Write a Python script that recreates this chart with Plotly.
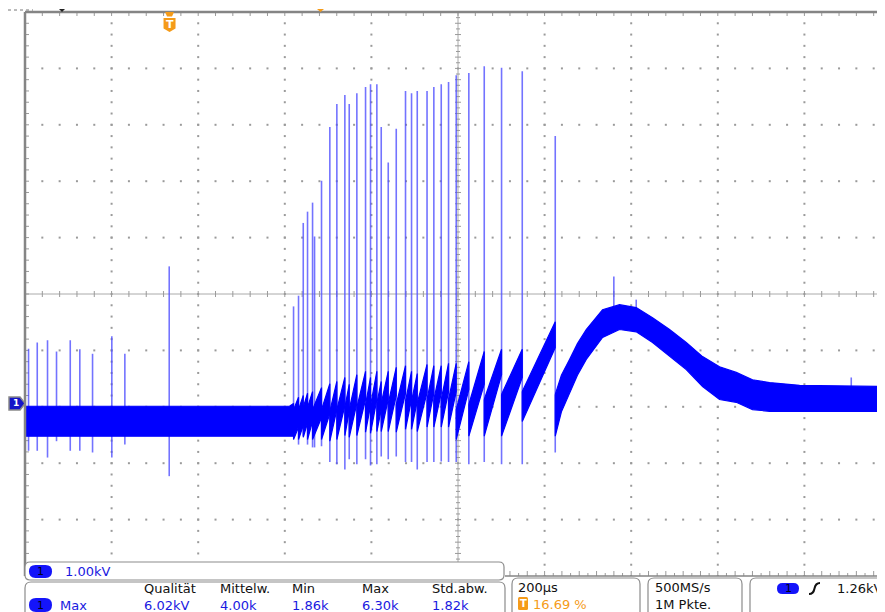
import plotly.graph_objects as go

# ---------------- scope settings ----------------
T_DIV = 200.0        # µs per division
V_DIV = 1.0          # kV per division
TRIG_POS = 0.1669    # trigger position (fraction of screen width)
GROUND_DIV = 3.06    # ground level above screen bottom (divisions)
TRIG_LEVEL = 1.26    # kV
N_DIV = 10

# ---------------- data (time in µs, voltage in kV) ----------------
# isolated spikes before the burst
base_spike_t = [-325.6, -305.5, -281.8, -261.0, -229.3, -207.2, -177.8, -133.3, -103.2, -0.7]
base_spike_top = [0.97, 1.08, 1.12, 0.92, 1.12, 0.96, 0.88, 1.19, 0.88, 2.43]
base_spike_bot = [-0.84, -0.84, -0.96, -0.67, -0.84, -0.84, -0.87, -0.96, -0.73, -1.29]

# burst spikes (each one starts a new sawtooth ramp)
burst_t = [286.4, 297.9, 308.8, 318.7, 330.3, 351.0, 370.2, 386.4, 404.9, 415.0,
           432.6, 452.7, 464.2, 478.8, 488.9, 505.1, 523.6, 545.0, 558.9, 572.1,
           594.7, 610.4, 627.5, 644.4, 662.1, 691.2, 726.8, 766.8, 814.6, 890.8]
burst_top = [1.72, 1.91, 3.20, 3.40, 3.56, 3.95, 4.90, 5.31, 5.47, 5.31,
             5.50, 5.61, 5.66, 5.66, 4.90, 4.27, 4.87, 5.54, 5.50, 5.54,
             5.54, 5.61, 5.66, 5.70, 5.82, 5.86, 5.98, 5.95, 5.89, 4.74]
burst_bot = [-0.58, -0.73, -0.58, -0.73, -0.78, -0.76, -1.04, -1.08, -1.17, -0.99,
             -1.08, -0.99, -1.10, -1.08, -0.94, -0.99, -0.94, -1.04, -1.04, -1.17,
             -1.04, -1.04, -1.03, -1.04, -1.04, -1.08, -1.04, -1.08, -1.08, -0.87]

# sawtooth ramps between consecutive burst spikes (upper / lower edge of the noisy band)
tooth_hi_start = [-0.11, -0.11, -0.07, -0.07, -0.11, -0.11, -0.14, -0.11, -0.07, -0.11,
                  -0.07, -0.02, -0.04, 0.00, 0.00, 0.00, -0.02, 0.04, 0.04, 0.00,
                  0.07, 0.07, 0.07, 0.07, -0.11, -0.02, 0.07, 0.16, 0.21]
tooth_lo_start = [-0.64, -0.64, -0.60, -0.64, -0.64, -0.64, -0.67, -0.64, -0.57, -0.60,
                  -0.57, -0.51, -0.53, -0.50, -0.50, -0.50, -0.51, -0.46, -0.46, -0.50,
                  -0.42, -0.42, -0.42, -0.42, -0.64, -0.58, -0.58, -0.58, -0.32]
tooth_hi_end = [0.11, 0.14, 0.18, 0.21, 0.28, 0.35, 0.39, 0.46, 0.34, 0.51,
                0.57, 0.46, 0.57, 0.39, 0.57, 0.64, 0.67, 0.57, 0.53, 0.69,
                0.67, 0.67, 0.71, 0.71, 0.74, 0.92, 0.96, 0.96, 1.45]
tooth_lo_end = [-0.42, -0.39, -0.35, -0.32, -0.25, -0.18, -0.11, -0.04, -0.14, 0.00,
                0.07, -0.04, 0.07, -0.11, 0.07, 0.14, 0.18, 0.07, 0.04, 0.19,
                0.18, 0.18, 0.21, 0.21, 0.25, 0.34, 0.51, 0.46, 0.99]

# other small spikes
extra_spike_t = [334.9, 1026.1, 1077.8, 1574.4]
extra_spike_top = [2.96, 2.25, 1.84, 0.46]
extra_spike_bot = [-0.78, 1.40, 1.40, 0.30]

# noise band before the burst
base_band_t = [-333.8, 277.0, 286.4]
base_band_hi = [-0.05, -0.05, 0.00]
base_band_lo = [-0.58, -0.58, -0.58]

# hump after the last spike
hump_t = [890.8, 905.0, 923.8, 942.0, 962.4, 1000.0, 1039.3, 1077.8, 1115.5, 1154.8, 1193.3,
          1231.0, 1270.2, 1308.8, 1346.4, 1385.7, 1455.0, 1652.3]
hump_hi = [0.16, 0.50, 0.78, 1.06, 1.31, 1.66, 1.75, 1.70, 1.52, 1.31, 1.08,
           0.83, 0.65, 0.55, 0.42, 0.37, 0.32, 0.30]
hump_lo = [-0.58, -0.15, 0.19, 0.50, 0.78, 1.17, 1.31, 1.27, 1.08, 0.83, 0.60,
           0.30, 0.07, 0.02, -0.11, -0.14, -0.14, -0.14]

# readouts
ch_scale = "1.00kV"
meas_type = "Max"
meas_headers = ["Qualität", "Mittelw.", "Min", "Max", "Std.abw."]
meas_values = ["6.02kV", "4.00k", "1.86k", "6.30k", "1.82k"]
timebase = "200µs"
trig_pos_text = "16.69 %"
sample_rate = "500MS/s"
record_len = "1M Pkte."
trig_level_text = "1.26kV"

# ---------------- geometry ----------------
# the page body adds an 8 px margin; figure is sized so the window shows 885x612
PAGE_OFF = 8
W, H = 885 - PAGE_OFF, 612 - PAGE_OFF
ML, MT, MB, MR = 25 - PAGE_OFF, 12 - PAGE_OFF, 36, 0
PW = W - ML - MR
PH = H - MT - MB
DIV_PX = 86.6
VDIV_PX = PH / N_DIV
x0 = -TRIG_POS * N_DIV * T_DIV
x1 = x0 + T_DIV * PW / DIV_PX
y0 = -GROUND_DIV * V_DIV
y1 = y0 + N_DIV * V_DIV
T_PER_PX = T_DIV / DIV_PX
V_PER_PX = V_DIV / VDIV_PX

# window-pixel positions of the plot area
PL = 25
PB = 576

BLUE = "rgb(0,0,255)"
SPIKE = "rgba(80,80,255,0.8)"
GRID = "#9a9a9a"
BORDER = "#858585"
ORANGE = "rgb(245,155,25)"
TXT_BLUE = "rgb(25,25,225)"
FONT = "DejaVu Sans"


def pxx(px):
    return (px - PL) / PW


def pyy(py):
    return (PB - py) / PH


def data_px(t):
    return PL + (t - x0) / (x1 - x0) * PW


def data_py(v):
    return PB - (v - y0) / (y1 - y0) * PH


def path_px(pts, close=True):
    s = "M " + " L ".join(f"{pxx(a):.5f},{pyy(b):.5f}" for a, b in pts)
    return s + (" Z" if close else "")


def rrect(xa, ya, xb, yb, r):
    def P(a, b):
        return f"{pxx(a):.5f},{pyy(b):.5f}"
    return (f"M {P(xa + r, ya)} L {P(xb - r, ya)} Q {P(xb, ya)} {P(xb, ya + r)} "
            f"L {P(xb, yb - r)} Q {P(xb, yb)} {P(xb - r, yb)} L {P(xa + r, yb)} "
            f"Q {P(xa, yb)} {P(xa, yb - r)} L {P(xa, ya + r)} Q {P(xa, ya)} {P(xa + r, ya)} Z")


fig = go.Figure()

# ---------------- graticule ----------------
gx, gy = [], []
for k in range(1, N_DIV):
    if k == 5:
        continue
    xv = x0 + k * T_DIV
    for j in range(0, 5 * N_DIV + 1):
        gx.append(xv)
        gy.append(y0 + j * V_DIV / 5)
for k in range(1, N_DIV):
    if k == 5:
        continue
    yv = y0 + k * V_DIV
    j = 0
    while x0 + j * T_DIV / 5 <= x1:
        gx.append(x0 + j * T_DIV / 5)
        gy.append(yv)
        j += 1
fig.add_trace(go.Scatter(x=gx, y=gy, mode="markers", hoverinfo="skip",
                         marker=dict(symbol="square", size=2, color=GRID, line=dict(width=0))))

xc = x0 + 5 * T_DIV
yc = y0 + 5 * V_DIV
tx, ty = [], []
j = 0
while x0 + j * T_DIV / 5 <= x1:
    xv = x0 + j * T_DIV / 5
    tx += [xv, xv, None]
    ty += [yc - 3 * V_PER_PX, yc + 3 * V_PER_PX, None]
    j += 1
for j in range(0, 10 * N_DIV + 1):
    yv = y0 + j * V_DIV / 10
    L = 3 if j % 2 == 0 else 2
    tx += [xc - L * T_PER_PX, xc + L * T_PER_PX, None]
    ty += [yv, yv, None]
j = 0
while x0 + j * T_DIV / 5 <= x1:
    xv = x0 + j * T_DIV / 5
    tx += [xv, xv, None]
    ty += [y1, y1 - 4 * V_PER_PX, None]
    j += 1
for j in range(0, 5 * N_DIV + 1):
    yv = y0 + j * V_DIV / 5
    tx += [x0, x0 + 4 * T_PER_PX, None]
    ty += [yv, yv, None]
j = 0
while x0 + j * T_DIV / 10 <= x1:
    xv = x0 + j * T_DIV / 10
    L = 5 if j % 2 == 0 else 3
    tx += [xv, xv, None]
    ty += [y0, y0 + L * V_PER_PX, None]
    j += 1
fig.add_trace(go.Scatter(x=tx, y=ty, mode="lines", hoverinfo="skip",
                         line=dict(color=GRID, width=1)))

fig.add_shape(type="line", xref="x", yref="y", x0=xc, x1=xc, y0=y0, y1=y1,
              line=dict(color="#aaaaaa", width=1), layer="below")
fig.add_shape(type="line", xref="x", yref="y", x0=x0, x1=x1, y0=yc, y1=yc,
              line=dict(color="#aaaaaa", width=1), layer="below")

# ---------------- signal ----------------
sx, sy = [], []
for t, a, b in zip(base_spike_t + burst_t + extra_spike_t,
                   base_spike_top + burst_top + extra_spike_top,
                   base_spike_bot + burst_bot + extra_spike_bot):
    sx += [t, t, None]
    sy += [b, a, None]
fig.add_trace(go.Scatter(x=sx, y=sy, mode="lines", hoverinfo="skip",
                         line=dict(color=SPIKE, width=1.6)))

bx, by = [], []


def add_poly(ts, hi, lo):
    bx.extend(list(ts) + list(ts)[::-1] + [ts[0], None])
    by.extend(list(hi) + list(lo)[::-1] + [hi[0], None])


add_poly(base_band_t, base_band_hi, base_band_lo)
for k in range(len(burst_t) - 1):
    add_poly([burst_t[k], burst_t[k + 1]],
             [tooth_hi_start[k], tooth_hi_end[k]],
             [tooth_lo_start[k], tooth_lo_end[k]])
add_poly(hump_t, hump_hi, hump_lo)
fig.add_trace(go.Scatter(x=bx, y=by, mode="lines", fill="toself", fillcolor=BLUE,
                         hoverinfo="skip", line=dict(color=BLUE, width=1.2)))

# ---------------- borders ----------------
fig.add_shape(type="line", xref="paper", yref="paper", x0=0, x1=1, y0=1, y1=1,
              line=dict(color=BORDER, width=2.5))
fig.add_shape(type="line", xref="paper", yref="paper", x0=0, x1=0, y0=0, y1=1,
              line=dict(color=BORDER, width=2.5))
fig.add_shape(type="line", xref="paper", yref="paper", x0=pxx(505), x1=1, y0=0, y1=0,
              line=dict(color=BORDER, width=1.5))
fig.add_shape(type="line", xref="paper", yref="paper", x0=pxx(8), x1=pxx(33),
              y0=pyy(10), y1=pyy(10), line=dict(color="#777", width=1, dash="3px,3px"))
fig.add_shape(type="path", xref="paper", yref="paper",
              path=path_px([(59, 9), (65, 9), (62, 12)]), fillcolor="#222", line=dict(width=0))
fig.add_shape(type="path", xref="paper", yref="paper",
              path=path_px([(317, 9), (324, 9), (320.5, 12)]), fillcolor=ORANGE, line=dict(width=0))

# trigger position marker
tpx = data_px(0.0)
fig.add_shape(type="path", xref="paper", yref="paper",
              path=path_px([(tpx - 4.5, 12), (tpx + 4.5, 12), (tpx + 2.5, 16.5), (tpx - 2.5, 16.5)]),
              fillcolor=ORANGE, line=dict(width=0))
fig.add_shape(type="path", xref="paper", yref="paper",
              path=path_px([(tpx - 6, 18), (tpx + 6, 18), (tpx + 6, 28.5), (tpx, 32), (tpx - 6, 28.5)]),
              fillcolor=ORANGE, line=dict(width=0))
fig.add_annotation(x=pxx(tpx), y=pyy(24.5), xref="paper", yref="paper", text="<b>T</b>",
                   showarrow=False, xanchor="center", yanchor="middle",
                   font=dict(family=FONT, size=11, color="white"))

# ground marker
gpy = data_py(0.0)
fig.add_shape(type="path", xref="paper", yref="paper",
              path=path_px([(9, gpy - 6.5), (20, gpy - 6.5), (25, gpy), (20, gpy + 6.5), (9, gpy + 6.5)]),
              fillcolor="rgb(20,20,200)", line=dict(color="#8a8a8a", width=1.5))
fig.add_annotation(x=pxx(15.5), y=pyy(gpy), xref="paper", yref="paper", text="<b>1</b>",
                   showarrow=False, xanchor="center", yanchor="middle",
                   font=dict(family=FONT, size=9, color="white"))

# trigger level marker (right edge)
tlpy = data_py(TRIG_LEVEL)
fig.add_shape(type="path", xref="paper", yref="paper",
              path=path_px([(886, tlpy - 5), (880, tlpy), (886, tlpy + 5)]),
              fillcolor="rgb(30,30,230)", line=dict(width=0))

# ---------------- readout boxes ----------------
box_line = dict(color="#8c8c8c", width=1.2)
fig.add_shape(type="path", xref="paper", yref="paper", path=rrect(25, 562, 504, 580, 5),
              fillcolor="white", line=box_line, layer="above")
fig.add_shape(type="path", xref="paper", yref="paper", path=rrect(25, 582, 505, 625, 6),
              fillcolor="white", line=box_line, layer="above")
fig.add_shape(type="path", xref="paper", yref="paper", path=rrect(512, 578, 640, 625, 6),
              fillcolor="white", line=box_line, layer="above")
fig.add_shape(type="path", xref="paper", yref="paper", path=rrect(648, 578, 742, 625, 6),
              fillcolor="white", line=box_line, layer="above")
fig.add_shape(type="path", xref="paper", yref="paper", path=rrect(750, 578, 900, 625, 6),
              fillcolor="white", line=box_line, layer="above")

PILL = "rgb(20,20,250)"
for (xa, ya, xb, yb) in [(29, 565, 52, 578), (29, 598, 52, 612), (777, 583, 799, 594)]:
    fig.add_shape(type="path", xref="paper", yref="paper",
                  path=rrect(xa, ya, xb, yb, (yb - ya) / 2), fillcolor=PILL,
                  line=dict(width=0), layer="above")
    fig.add_annotation(x=pxx((xa + xb) / 2), y=pyy((ya + yb) / 2), xref="paper", yref="paper",
                       text="1", showarrow=False, xanchor="center", yanchor="middle",
                       font=dict(family=FONT, size=11, color="#000020"))


def label(px, py, text, color="#111111", size=13):
    fig.add_annotation(x=pxx(px), y=pyy(py), xref="paper", yref="paper", text=text,
                       showarrow=False, xanchor="left", yanchor="middle",
                       font=dict(family=FONT, size=size, color=color))


label(63, 571, ch_scale, TXT_BLUE)
label(58, 605, meas_type, TXT_BLUE)
for xh, hdr, val in zip([142, 218, 290, 360, 430], meas_headers, meas_values):
    label(xh, 589, hdr)
    label(xh, 605, val, TXT_BLUE)

label(516, 587, timebase)
fig.add_shape(type="path", xref="paper", yref="paper", path=rrect(518, 597, 528, 610, 1.5),
              fillcolor=ORANGE, line=dict(width=0), layer="above")
fig.add_annotation(x=pxx(523), y=pyy(603.5), xref="paper", yref="paper", text="<b>T</b>",
                   showarrow=False, xanchor="center", yanchor="middle",
                   font=dict(family=FONT, size=10, color="white"))
label(531, 604, trig_pos_text, ORANGE)
label(653, 587, sample_rate)
label(653, 604, record_len)
fig.add_shape(type="path", xref="paper", yref="paper",
              path=(f"M {pxx(809):.5f},{pyy(594):.5f} Q {pxx(813.5):.5f},{pyy(594):.5f} "
                    f"{pxx(814.5):.5f},{pyy(588.5):.5f} Q {pxx(815.5):.5f},{pyy(583):.5f} "
                    f"{pxx(820):.5f},{pyy(583):.5f}"),
              line=dict(color="#111", width=2), layer="above")
label(835, 588, trig_level_text)

# ---------------- layout ----------------
fig.update_layout(
    width=W, height=H,
    margin=dict(l=ML, r=MR, t=MT, b=MB, pad=0),
    paper_bgcolor="white", plot_bgcolor="white",
    showlegend=False,
    xaxis=dict(range=[x0, x1], visible=False, fixedrange=True),
    yaxis=dict(range=[y0, y1], visible=False, fixedrange=True),
)

fig.write_html("out.html")
